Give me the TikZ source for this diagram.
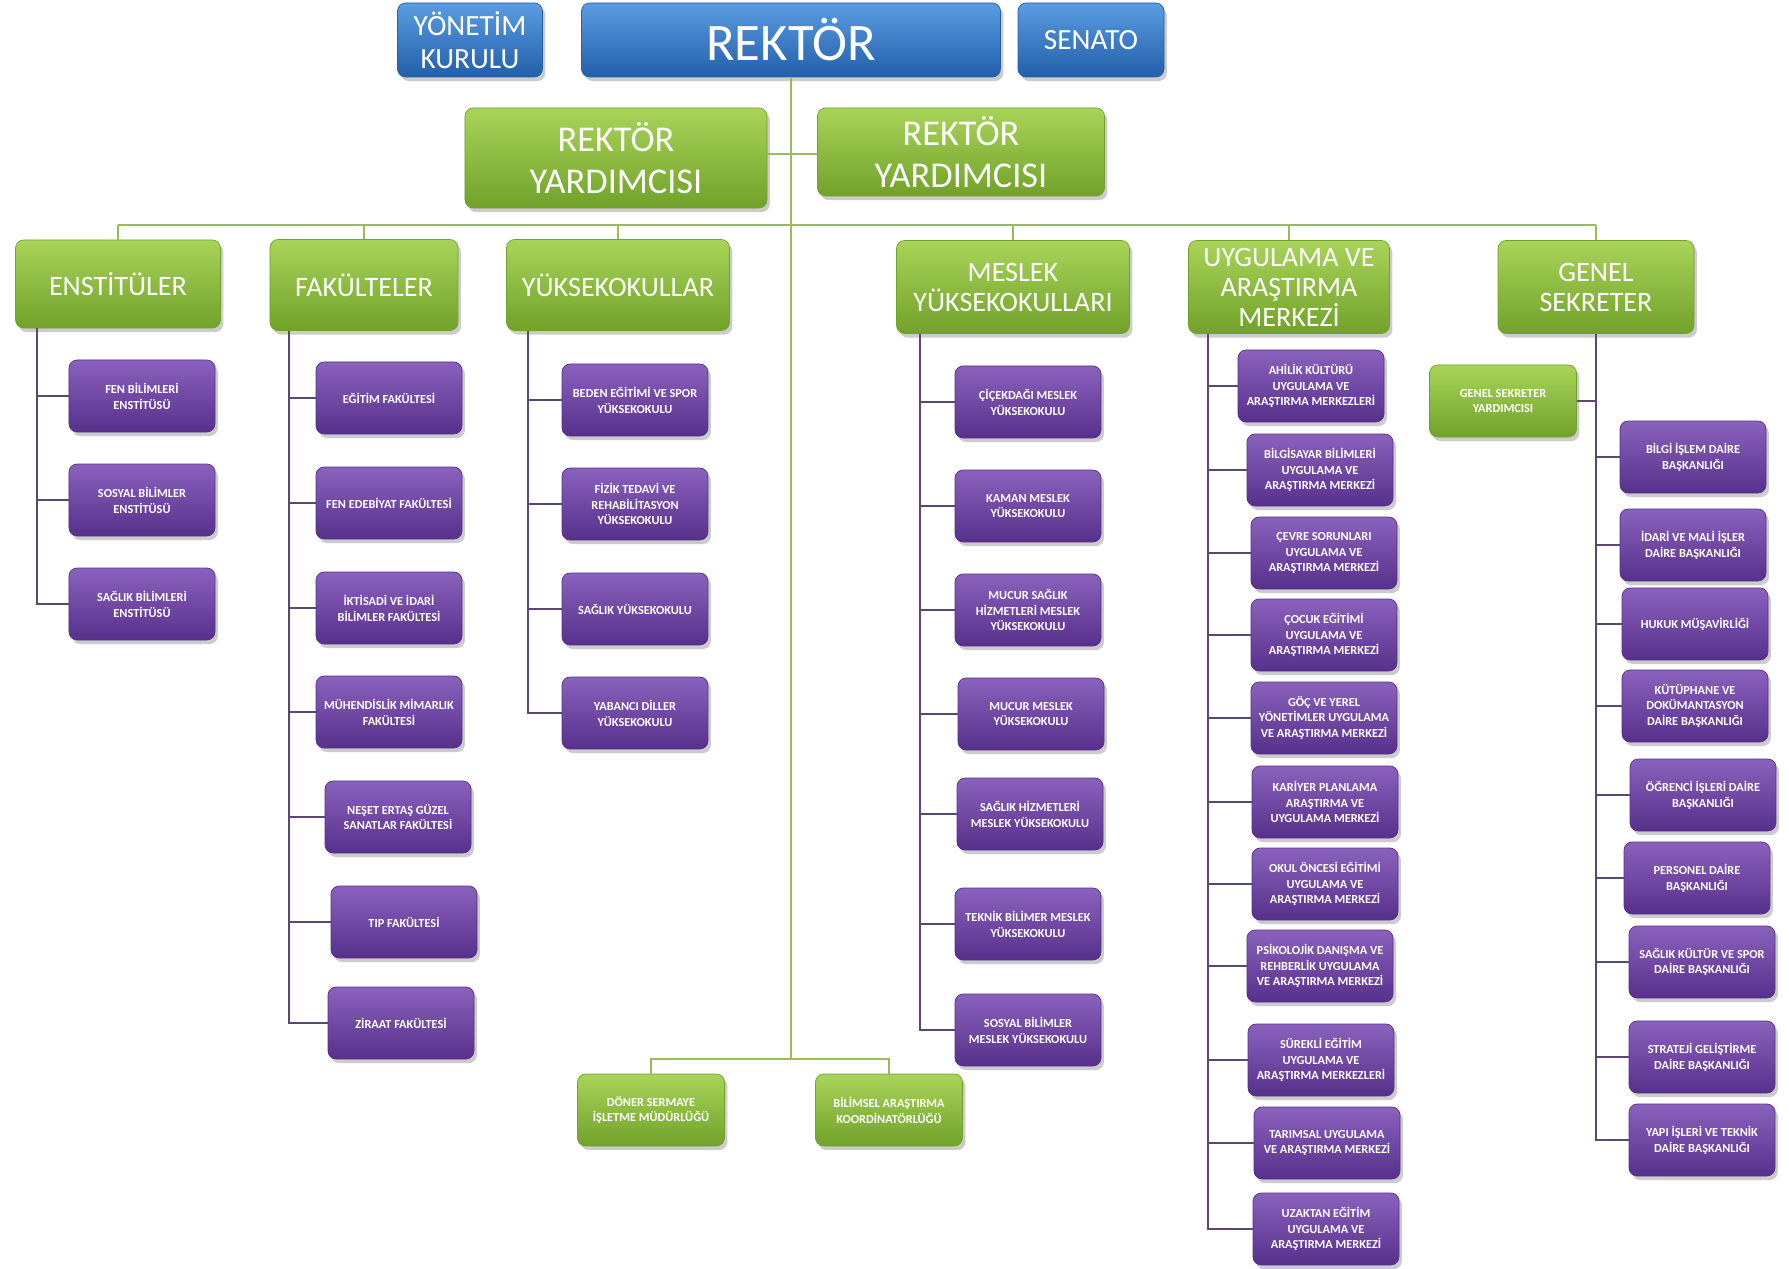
\documentclass[tikz,border=0pt]{standalone}
\usepackage{fontspec}
\setmainfont{Carlito}
\usetikzlibrary{shadows}
\definecolor{blueT}{HTML}{5A9CE2}
\definecolor{blueB}{HTML}{235FAA}
\definecolor{greenT}{HTML}{A8D458}
\definecolor{greenB}{HTML}{72A22B}
\definecolor{purpT}{HTML}{8A62BE}
\definecolor{purpB}{HTML}{57308C}
\definecolor{lineG}{HTML}{9BBB59}
\definecolor{lineP}{HTML}{5C4676}

\begin{document}
\begin{tikzpicture}[x=0.03cm,y=-0.03cm,
    box/.style={rounded corners=7pt, align=center, text=white, inner sep=1pt, line width=0.6pt,
      drop shadow={opacity=0.4, shadow xshift=2.5pt, shadow yshift=-3.5pt}},
    bluebox/.style={box, top color=blueT, bottom color=blueB, draw=blueB},
    greenbox/.style={box, top color=greenT, bottom color=greenB, draw=greenB},
    purplebox/.style={box, top color=purpT, bottom color=purpB, draw=purpB},
    dept/.style={greenbox, minimum height=2.79cm, font=\fontsize{24}{25.6}\selectfont},
    unit/.style={purplebox, minimum width=4.38cm, minimum height=2.16cm, font=\bfseries\fontsize{10.5}{13.5}\selectfont},
    minor/.style={greenbox, minimum width=4.41cm, minimum height=2.16cm, font=\bfseries\fontsize{10.5}{13.5}\selectfont},
    glink/.style={draw=lineG, line width=2pt},
    plink/.style={draw=lineP, line width=2pt}]
\path[use as bounding box, fill=white] (0,0) rectangle (1789,1269);

\node[bluebox, minimum width=4.35cm, minimum height=2.22cm, font=\fontsize{25}{28}\selectfont] (yk) at (470,40) {YÖNETİM\\KURULU};
\node[bluebox, minimum width=12.57cm, minimum height=2.22cm, font=\fontsize{45}{50}\selectfont] (rek) at (791,40) {REKTÖR};
\node[bluebox, minimum width=4.38cm, minimum height=2.22cm, font=\fontsize{25}{28}\selectfont] (sen) at (1091,40) {SENATO};
\node[greenbox, minimum width=9.06cm, minimum height=3cm, font=\fontsize{31}{36}\selectfont] (ry1) at (616,158) {REKTÖR\\YARDIMCISI};
\node[greenbox, minimum width=8.61cm, minimum height=2.64cm, font=\fontsize{31}{36}\selectfont] (ry2) at (961,152) {REKTÖR\\YARDIMCISI};

\node[dept, minimum width=6.15cm, minimum height=2.64cm] (ens) at (118,284) {ENSTİTÜLER};
\node[dept, minimum width=5.64cm, minimum height=2.73cm] (fak) at (364,285) {FAKÜLTELER};
\node[dept, minimum width=6.69cm, minimum height=2.73cm] (yuk) at (618,285) {YÜKSEKOKULLAR};
\node[dept, minimum width=6.99cm] (mes) at (1013,287) {MESLEK\\YÜKSEKOKULLARI};
\node[dept, minimum width=6.03cm] (uyg) at (1289,287) {UYGULAMA VE\\ARAŞTIRMA\\MERKEZİ};
\node[dept, minimum width=5.88cm] (gs) at (1596,287) {GENEL\\SEKRETER};

\node[unit] (ens1) at (142,396) {FEN BİLİMLERİ\\ENSTİTÜSÜ};
\node[unit] (ens2) at (142,500) {SOSYAL BİLİMLER\\ENSTİTÜSÜ};
\node[unit] (ens3) at (142,604) {SAĞLIK BİLİMLERİ\\ENSTİTÜSÜ};

\node[unit] (fak1) at (389,398) {EĞİTİM FAKÜLTESİ};
\node[unit] (fak2) at (389,503) {FEN EDEBİYAT FAKÜLTESİ};
\node[unit] (fak3) at (389,608) {İKTİSADİ VE İDARİ\\BİLİMLER FAKÜLTESİ};
\node[unit] (fak4) at (389,712) {MÜHENDİSLİK MİMARLIK\\FAKÜLTESİ};
\node[unit] (fak5) at (398,817) {NEŞET ERTAŞ GÜZEL\\SANATLAR FAKÜLTESİ};
\node[unit] (fak6) at (404,922) {TIP FAKÜLTESİ};
\node[unit] (fak7) at (401,1023) {ZİRAAT FAKÜLTESİ};

\node[unit] (yuk1) at (635,400) {BEDEN EĞİTİMİ VE SPOR\\YÜKSEKOKULU};
\node[unit] (yuk2) at (635,504) {FİZİK TEDAVİ VE\\REHABİLİTASYON\\YÜKSEKOKULU};
\node[unit] (yuk3) at (635,609) {SAĞLIK YÜKSEKOKULU};
\node[unit] (yuk4) at (635,713) {YABANCI DİLLER\\YÜKSEKOKULU};

\node[unit] (mes1) at (1028,402) {ÇİÇEKDAĞI MESLEK\\YÜKSEKOKULU};
\node[unit] (mes2) at (1028,506) {KAMAN MESLEK\\YÜKSEKOKULU};
\node[unit] (mes3) at (1028,610) {MUCUR SAĞLIK\\HİZMETLERİ MESLEK\\YÜKSEKOKULU};
\node[unit] (mes4) at (1031,714) {MUCUR MESLEK\\YÜKSEKOKULU};
\node[unit] (mes5) at (1030,814) {SAĞLIK HİZMETLERİ\\MESLEK YÜKSEKOKULU};
\node[unit] (mes6) at (1028,924) {TEKNİK BİLİMER MESLEK\\YÜKSEKOKULU};
\node[unit] (mes7) at (1028,1030) {SOSYAL BİLİMLER\\MESLEK YÜKSEKOKULU};

\node[unit] (uyg1) at (1311,386) {AHİLİK KÜLTÜRÜ\\UYGULAMA VE\\ARAŞTIRMA MERKEZLERİ};
\node[unit] (uyg2) at (1320,470) {BİLGİSAYAR BİLİMLERİ\\UYGULAMA VE\\ARAŞTIRMA MERKEZİ};
\node[unit] (uyg3) at (1324,553) {ÇEVRE SORUNLARI\\UYGULAMA VE\\ARAŞTIRMA MERKEZİ};
\node[unit] (uyg4) at (1324,635) {ÇOCUK EĞİTİMİ\\UYGULAMA VE\\ARAŞTIRMA MERKEZİ};
\node[unit] (uyg5) at (1324,718) {GÖÇ VE YEREL\\YÖNETİMLER UYGULAMA\\VE ARAŞTIRMA MERKEZİ};
\node[unit] (uyg6) at (1325,802) {KARİYER PLANLAMA\\ARAŞTIRMA VE\\UYGULAMA MERKEZİ};
\node[unit] (uyg7) at (1325,884) {OKUL ÖNCESİ EĞİTİMİ\\UYGULAMA VE\\ARAŞTIRMA MERKEZİ};
\node[unit] (uyg8) at (1320,966) {PSİKOLOJİK DANIŞMA VE\\REHBERLİK UYGULAMA\\VE ARAŞTIRMA MERKEZİ};
\node[unit] (uyg9) at (1321,1060) {SÜREKLİ EĞİTİM\\UYGULAMA VE\\ARAŞTIRMA MERKEZLERİ};
\node[unit] (uyg10) at (1327,1143) {TARIMSAL UYGULAMA\\VE ARAŞTIRMA MERKEZİ};
\node[unit] (uyg11) at (1326,1229) {UZAKTAN EĞİTİM\\UYGULAMA VE\\ARAŞTIRMA MERKEZİ};

\node[minor] (gsy) at (1503,401) {GENEL SEKRETER\\YARDIMCISI};
\node[unit] (gs1) at (1693,457) {BİLGİ İŞLEM DAİRE\\BAŞKANLIĞI};
\node[unit] (gs2) at (1693,545) {İDARİ VE MALİ İŞLER\\DAİRE BAŞKANLIĞI};
\node[unit] (gs3) at (1695,624) {HUKUK MÜŞAVİRLİĞİ};
\node[unit] (gs4) at (1695,706) {KÜTÜPHANE VE\\DOKÜMANTASYON\\DAİRE BAŞKANLIĞI};
\node[unit] (gs5) at (1703,795) {ÖĞRENCİ İŞLERİ DAİRE\\BAŞKANLIĞI};
\node[unit] (gs6) at (1697,878) {PERSONEL DAİRE\\BAŞKANLIĞI};
\node[unit] (gs7) at (1702,962) {SAĞLIK KÜLTÜR VE SPOR\\DAİRE BAŞKANLIĞI};
\node[unit] (gs8) at (1702,1057) {STRATEJİ GELİŞTİRME\\DAİRE BAŞKANLIĞI};
\node[unit] (gs9) at (1702,1140) {YAPI İŞLERİ VE TEKNİK\\DAİRE BAŞKANLIĞI};

\node[minor] (dsi) at (651,1110) {DÖNER SERMAYE\\İŞLETME MÜDÜRLÜĞÜ};
\node[minor] (bak) at (889,1110) {BİLİMSEL ARAŞTIRMA\\KOORDİNATÖRLÜĞÜ};

\coordinate (tEnd) at (791,1059);
\coordinate (ryJ) at (791,154);
\coordinate (busL) at (118,225);
\coordinate (busR) at (1596,225);
\draw[glink] (rek.south) -- (tEnd);
\draw[glink] (ry1.east |- ryJ) -- (ry2.west |- ryJ);
\draw[glink] (busL) -- (busR);
\foreach \n in {ens,fak,yuk,mes,uyg,gs}
  \draw[glink] (\n.north |- busL) -- (\n.north);
\draw[glink] (dsi.north) |- (tEnd) -| (bak.north);

\coordinate (ensS) at (37,328);
\coordinate (fakS) at (289,331);
\coordinate (yukS) at (528,331);
\coordinate (mesS) at (920,334);
\coordinate (uygS) at (1208,334);
\coordinate (gsS) at (1596,334);
\foreach \i in {1,...,3} \draw[plink] (ensS) |- (ens\i.west);
\foreach \i in {1,...,7} \draw[plink] (fakS) |- (fak\i.west);
\foreach \i in {1,...,4} \draw[plink] (yukS) |- (yuk\i.west);
\foreach \i in {1,...,7} \draw[plink] (mesS) |- (mes\i.west);
\foreach \i in {1,...,11} \draw[plink] (uygS) |- (uyg\i.west);
\foreach \i in {1,...,9} \draw[plink] (gsS) |- (gs\i.west);
\draw[plink] (gsS) |- (gsy.east);
\end{tikzpicture}
\end{document}
